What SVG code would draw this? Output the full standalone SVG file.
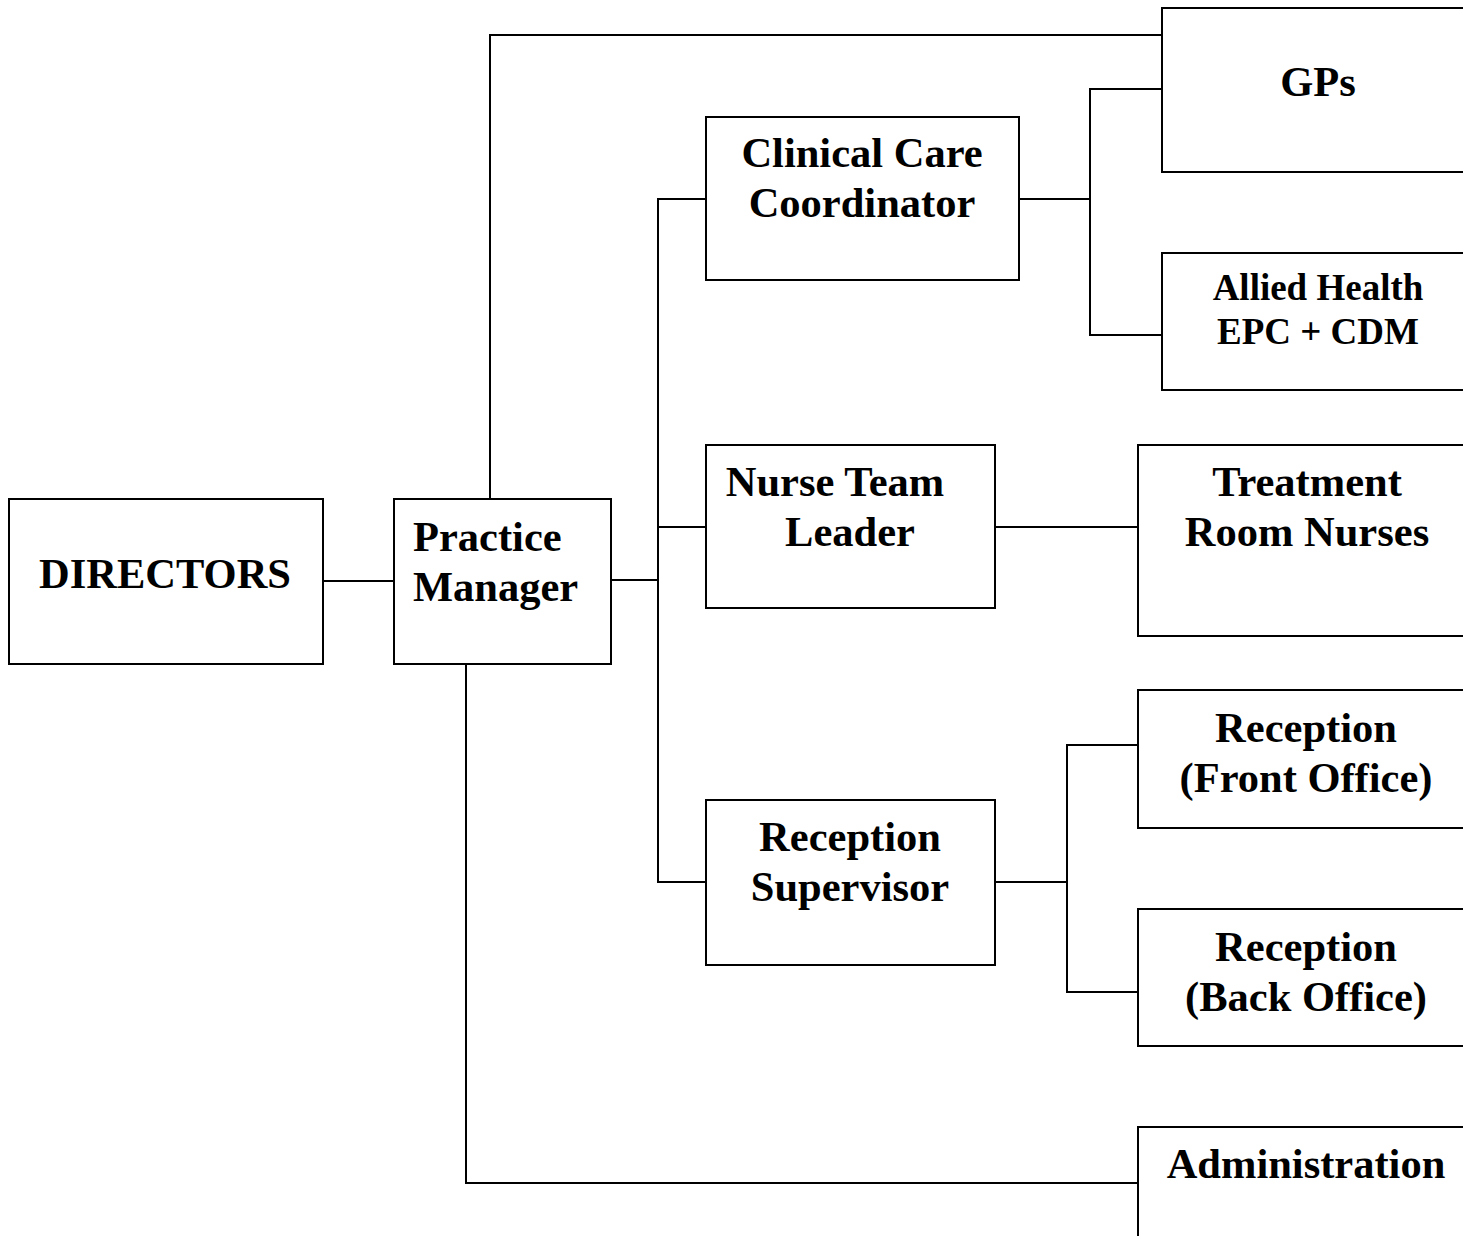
<svg xmlns="http://www.w3.org/2000/svg" width="1463" height="1236" viewBox="0 0 1463 1236">
<style>
.box{fill:#fff;stroke:#000;stroke-width:2}
.t{font-family:"Liberation Serif","Times New Roman",serif;font-weight:bold;font-size:42.5px;fill:#000;text-anchor:middle}
.s{font-size:37px}
.l{text-anchor:start}
.c{fill:none;stroke:#000;stroke-width:2}
</style>
<rect width="1463" height="1236" fill="#fff"/>
<g id="connectors">
<path class="c" d="M323 581H394"/>
<path class="c" d="M490 499V35H1162"/>
<path class="c" d="M611 580H658"/>
<path class="c" d="M706 199H658V882H706"/>
<path class="c" d="M658 527H706"/>
<path class="c" d="M1019 199H1090"/>
<path class="c" d="M1162 89H1090V335H1162"/>
<path class="c" d="M995 527H1138"/>
<path class="c" d="M995 882H1067"/>
<path class="c" d="M1138 745H1067V992H1138"/>
<path class="c" d="M466 664V1183H1138"/>
</g>
<g id="directors"><rect class="box" x="9" y="499" width="314" height="165"/><text class="t" x="165" y="588">DIRECTORS</text></g>
<g id="practice-manager"><rect class="box" x="394" y="499" width="217" height="165"/><text class="t l" x="413" y="551">Practice</text><text class="t l" x="413" y="601">Manager</text></g>
<g id="clinical-care"><rect class="box" x="706" y="117" width="313" height="163"/><text class="t" x="862" y="167">Clinical Care</text><text class="t" x="862" y="217">Coordinator</text></g>
<g id="gps"><rect class="box" x="1162" y="8" width="320" height="164"/><text class="t" x="1318" y="96">GPs</text></g>
<g id="allied-health"><rect class="box" x="1162" y="253" width="320" height="137"/><text class="t s" x="1318" y="300">Allied Health</text><text class="t s" x="1318" y="344">EPC + CDM</text></g>
<g id="nurse-team-leader"><rect class="box" x="706" y="445" width="289" height="163"/><text class="t" x="835" y="496">Nurse Team</text><text class="t" x="850" y="546">Leader</text></g>
<g id="treatment-room"><rect class="box" x="1138" y="445" width="344" height="191"/><text class="t" x="1307" y="496">Treatment</text><text class="t" x="1307" y="546">Room Nurses</text></g>
<g id="reception-supervisor"><rect class="box" x="706" y="800" width="289" height="165"/><text class="t" x="850" y="851">Reception</text><text class="t" x="850" y="901">Supervisor</text></g>
<g id="reception-front"><rect class="box" x="1138" y="690" width="344" height="138"/><text class="t" x="1306" y="742">Reception</text><text class="t" x="1306" y="792">(Front Office)</text></g>
<g id="reception-back"><rect class="box" x="1138" y="909" width="344" height="137"/><text class="t" x="1306" y="961">Reception</text><text class="t" x="1306" y="1011">(Back Office)</text></g>
<g id="administration"><rect class="box" x="1138" y="1127" width="344" height="140"/><text class="t" x="1306" y="1178">Administration</text></g>
</svg>
